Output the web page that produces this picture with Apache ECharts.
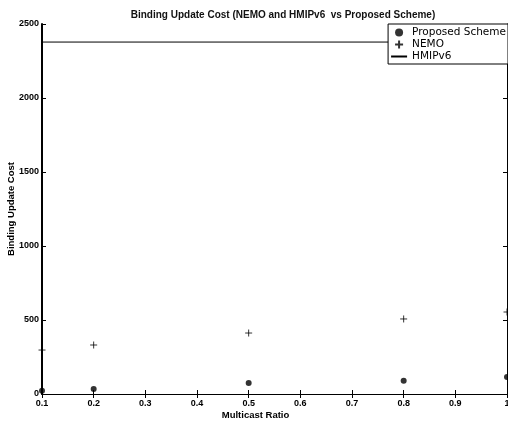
<!DOCTYPE html>
<html>
<head>
<meta charset="utf-8">
<script src="https://cdn.jsdelivr.net/npm/echarts@6/dist/echarts.min.js"></script>
<style>html,body{margin:0;padding:0;background:#fff;}#c{width:508px;height:422px;}</style>
</head>
<body>
<div id="c"></div>
<script>
var ratios = [0.1, 0.2, 0.5, 0.8, 1.0];
var proposed = [22, 34, 74, 90, 115];
var nemo = [297, 331, 412, 507, 554];
var hmipv6 = [2378, 2378];
var hmipX = [0.1, 1.0];

var font = 'Liberation Sans, Arial, sans-serif';
var chart = echarts.init(document.getElementById('c'));
function pairs(xs, ys){ return xs.map(function(x,i){ return [x, ys[i]]; }); }
var plusPath = 'path://M0,5L10,5M5,0L5,10';
var fmt = function(v){ return String(Math.round(v*10)/10); };
var axisCommon = {
  axisLine: {show: true, lineStyle: {color: '#000', width: 1}},
  axisTick: {show: true, inside: true, length: 4, lineStyle: {color: '#000'}},
  splitLine: {show: false}
};
chart.setOption({
  animation: false,
  backgroundColor: '#fff',
  title: {
    text: 'Binding Update Cost (NEMO and HMIPv6  vs Proposed Scheme)',
    left: 278, top: 5, textAlign: 'center',
    textStyle: {fontFamily: font, fontSize: 10, fontWeight: 'bold', color: '#111'}
  },
  legend: {
    orient: 'vertical', right: 0, top: 24,
    backgroundColor: '#fff', borderColor: '#000', borderWidth: 1,
    padding: [3, 2, 2, 2], itemGap: 0, itemWidth: 16, itemHeight: 8,
    textStyle: {fontFamily: 'DejaVu Sans, sans-serif', fontSize: 10.5, color: '#000', lineHeight: 11},
    data: [{name: 'Proposed Scheme'}, {name: 'NEMO'},
      {name: 'HMIPv6', itemStyle: {color: 'rgba(0,0,0,0)', borderColor: 'rgba(0,0,0,0)', borderWidth: 0}}]
  },
  grid: {left: 42, right: 1, top: 24, bottom: 28, containLabel: false, outerBoundsMode: 'none'},
  xAxis: [
    Object.assign({}, axisCommon, {
      type: 'value', min: 0.1, max: 1, interval: 0.1, position: 'bottom',
      axisLabel: {fontFamily: font, fontSize: 9, fontWeight: 'bold', color: '#000', margin: 5, formatter: fmt},
      name: 'Multicast Ratio', nameLocation: 'middle', nameGap: 16, nameMoveOverlap: false,
      nameTextStyle: {fontFamily: font, fontSize: 9.5, fontWeight: 'bold', color: '#000', padding: [0, 38, 0, 0]}
    }),
    Object.assign({}, axisCommon, {
      type: 'value', min: 0.1, max: 1, interval: 0.1, position: 'top',
      axisLabel: {show: false}
    })
  ],
  yAxis: [
    Object.assign({}, axisCommon, {
      type: 'value', min: 0, max: 2500, interval: 500, position: 'left',
      axisLine: {show: true, lineStyle: {color: '#000', width: 2}},
      axisLabel: {fontFamily: font, fontSize: 9, fontWeight: 'bold', color: '#000', margin: 3, formatter: function(v){ return String(v); }},
      name: 'Binding Update Cost', nameLocation: 'middle', nameGap: 26, nameMoveOverlap: false,
      nameTextStyle: {fontFamily: font, fontSize: 9.5, fontWeight: 'bold', color: '#000'}
    }),
    Object.assign({}, axisCommon, {
      type: 'value', min: 0, max: 2500, interval: 500, position: 'right',
      axisLabel: {show: false}
    })
  ],
  series: [
    {
      name: 'Proposed Scheme', type: 'scatter', symbol: 'circle', symbolSize: 6,
      itemStyle: {color: '#000'},
      data: pairs(ratios, proposed)
    },
    {
      name: 'NEMO', type: 'scatter', symbol: plusPath, symbolSize: 7,
      itemStyle: {color: 'none', borderColor: '#000', borderWidth: 1},
      data: pairs(ratios, nemo)
    },
    {
      name: 'HMIPv6', type: 'line', symbol: 'none', showSymbol: false,
      lineStyle: {color: '#000', width: 1}, itemStyle: {color: '#000'},
      data: pairs(hmipX, hmipv6)
    }
  ]
});
</script>
</body>
</html>
